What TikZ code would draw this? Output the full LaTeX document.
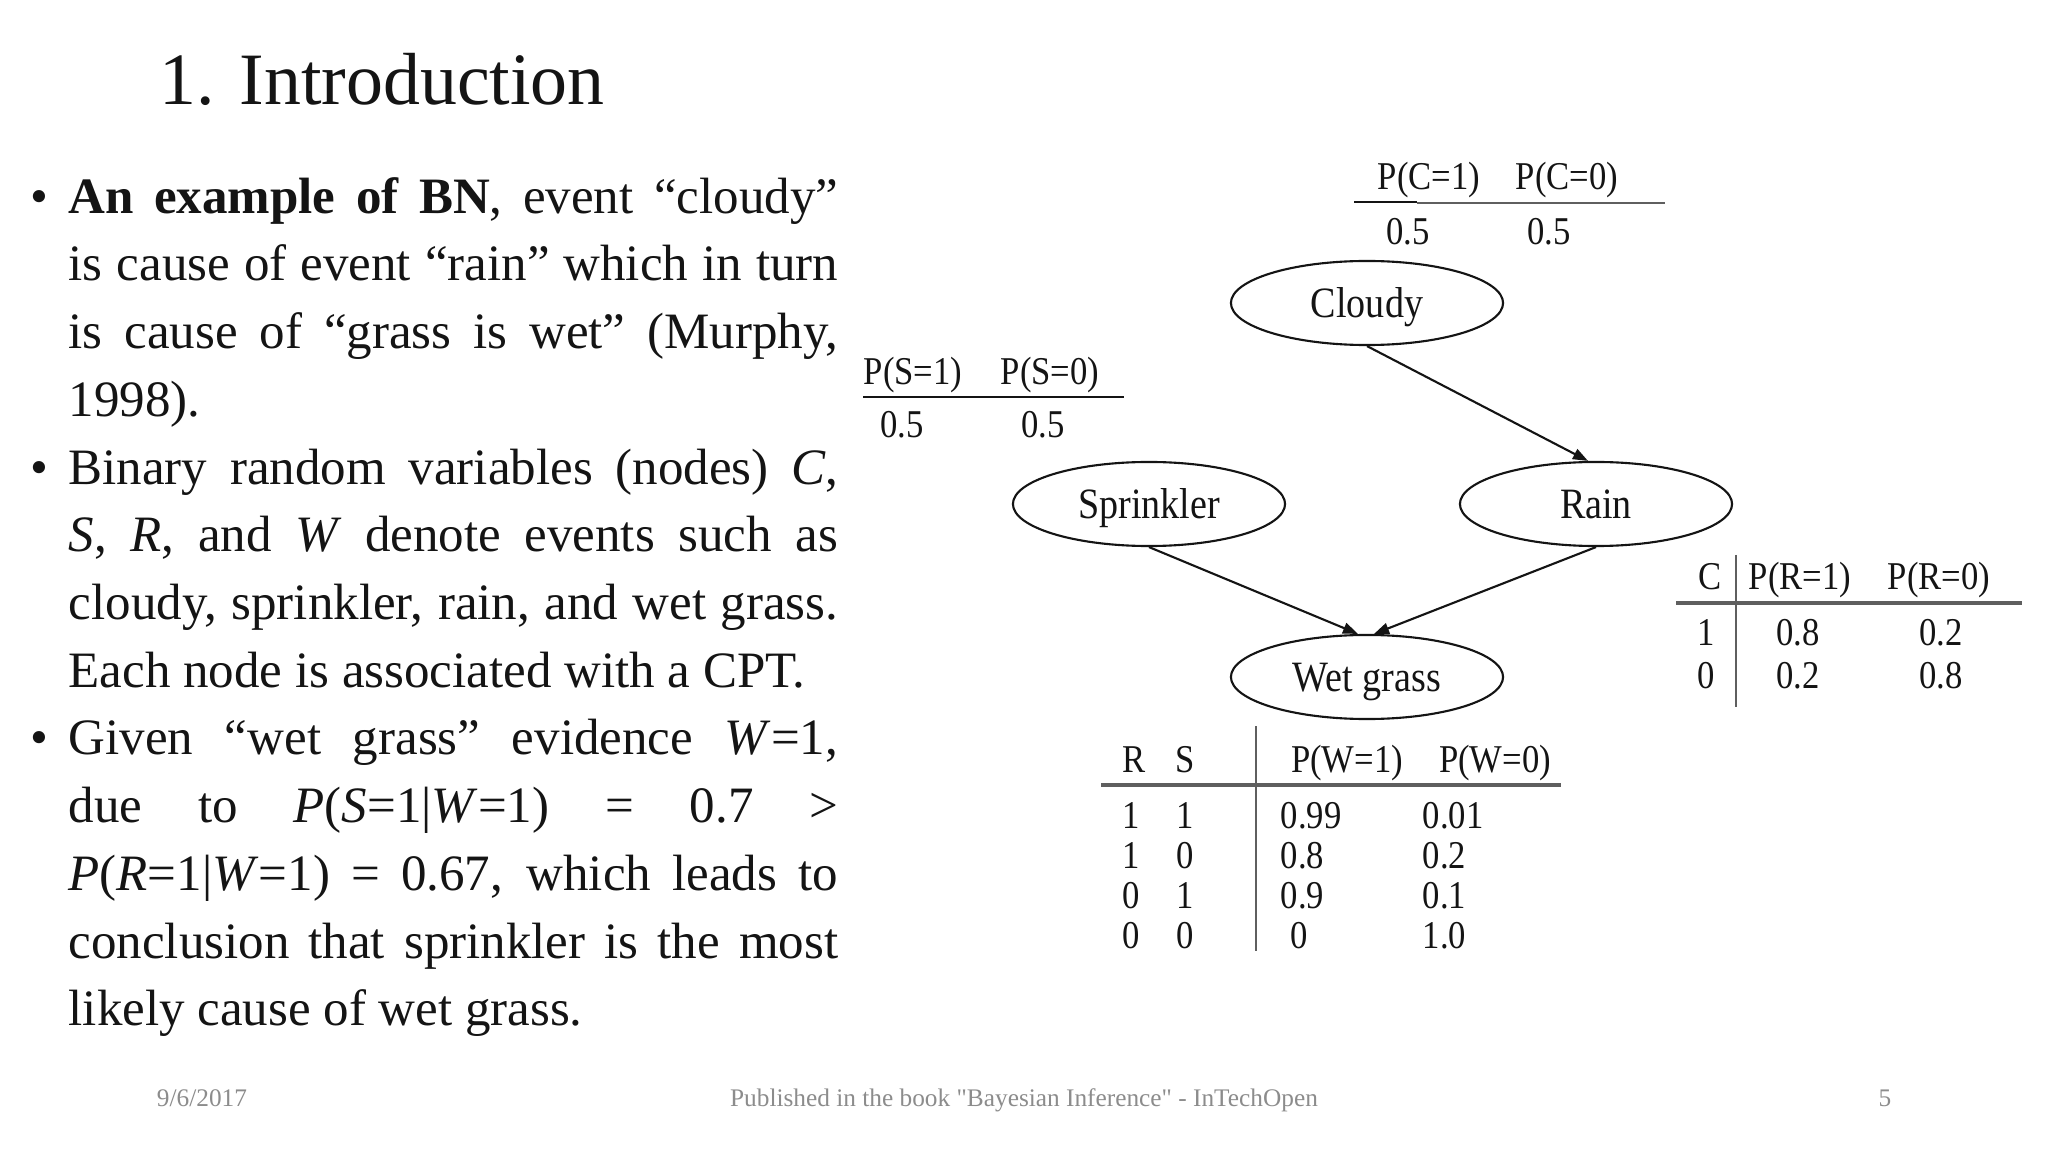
\documentclass[tikz,border=0pt]{standalone}
\usepackage{fontspec}
\setmainfont{Liberation Serif}
\newfontfamily\bnfont[FakeStretch=0.88]{Liberation Serif}
\usepackage{xcolor}
\definecolor{ink}{RGB}{20,20,20}
\definecolor{rulegray}{RGB}{95,95,95}
\definecolor{footgray}{RGB}{140,140,140}
\usepackage{tikz}
\usetikzlibrary{arrows.meta,positioning,shapes.geometric}
\tikzset{
  bnvar/.style={ellipse, draw=ink, line width=0.6pt,
    minimum width=2.72cm, minimum height=0.84cm, inner sep=0pt,
    font=\bnfont\fontsize{12.3}{14}\selectfont, text=ink,
    text height=8.1pt, text depth=0pt},
  bnedge/.style={draw=ink, line width=0.6pt,
    -{Triangle[length=0.15cm,width=0.11cm]}},
  cpt/.style={inner sep=0pt, text=ink,
    font=\bnfont\fontsize{11.2}{13}\selectfont,
    text height=7.4pt, text depth=0pt},
  cptline/.style={draw=ink, line width=0.5pt},
  cptrule/.style={draw=rulegray, line width=1.1pt},
  cptbar/.style={draw=rulegray, line width=0.6pt},
  footer/.style={font=\fontsize{7.2}{9}\selectfont, text=footgray,
    anchor=base, inner sep=0pt},
}

\begin{document}
\begin{tikzpicture}[x=0.01cm, y=-0.01cm]
\useasboundingbox[fill=white] (0,0) rectangle (2048,1152);

% slide text
\node[anchor=base west, inner sep=0pt, text=ink,
      font=\fontsize{21}{26}\selectfont] (title) at (159,105) {1. Introduction};
\node[anchor=north west, inner sep=0pt, text width=7.69cm, align=justify,
      text=ink, font=\fontsize{14.5}{19.26}\selectfont] (body) at (68,165) {%
  \tolerance=10000 \hyphenpenalty=10000 \parindent=0pt
  \leavevmode\strut\llap{\textbullet\hspace{0.2cm}}\textbf{An example of BN}, event “cloudy”\linebreak
  is cause of event “rain” which in turn\linebreak
  is cause of “grass is wet” (Murphy,\linebreak
  1998).\par
  \leavevmode\llap{\textbullet\hspace{0.2cm}}Binary random variables (nodes) \textit{C},\linebreak
  \textit{S}, \textit{R}, and \textit{W} denote events such as\linebreak
  cloudy, sprinkler, rain, and wet grass.\linebreak
  Each node is associated with a CPT.\par
  \leavevmode\llap{\textbullet\hspace{0.2cm}}Given “wet grass” evidence \textit{W}=1,\linebreak
  due to \textit{P}(\textit{S}=1|\textit{W}=1) = 0.7 >\linebreak
  \textit{P}(\textit{R}=1|\textit{W}=1) = 0.67, which leads to\linebreak
  conclusion that sprinkler is the most\linebreak
  likely cause of wet grass.\par};

% network
\node[bnvar] (cloudy) at (1367,303) {Cloudy};
\node[bnvar] (sprinkler) at (1149,504) {Sprinkler};
\node[bnvar] (rain) at (1596,504) {Rain};
\node[bnvar] (wet) at (1367,677) {Wet grass};

\draw[bnedge] (cloudy.south) -- ([xshift=-0.08cm]rain.north);
\draw[bnedge] (sprinkler.south) -- ([xshift=-0.09cm]wet.north);
\draw[bnedge] (rain.south) -- ([xshift=0.07cm]wet.north);

% CPT of C
\node[cpt] (pc1) at (1429,176) {P(C=1)};
\node[cpt] (pc0) at (1567,176) {P(C=0)};
\draw[cptline] (1354,202) -- (1417,202);
\draw[cptrule, line width=0.8pt] (1417,203) -- (1665,203);
\node[cpt] (pc1v) at (1408,231) {0.5};
\node[cpt] (pc0v) at (1549,231) {0.5};

% CPT of S
\node[cpt] (ps1) at (913,371) {P(S=1)};
\node[cpt] (ps0) at (1050,371) {P(S=0)};
\draw[cptline] (863,397) -- (1124,397);
\node[cpt] (ps1v) at (902,424) {0.5};
\node[cpt] (ps0v) at (1043,424) {0.5};

% CPT of R
\node[cpt] (rc) at (1710,576) {C};
\node[cpt] (pr1) at (1800,576) {P(R=1)};
\node[cpt] (pr0) at (1939,576) {P(R=0)};
\draw[cptbar] (1736,555) -- (1736,707);
\draw[cptrule] (1676,603) -- (2022,603);
\foreach \c/\a/\b [count=\i] in {1/0.8/0.2, 0/0.2/0.8} {
  \node[cpt] (rrow\i c) at (1706,589+43*\i) {\c};
  \node[cpt] (rrow\i a) at (1798,589+43*\i) {\a};
  \node[cpt] (rrow\i b) at (1941,589+43*\i) {\b};
}

% CPT of W
\node[cpt] (wr) at (1134,759) {R};
\node[cpt] (ws) at (1185,759) {S};
\node[cpt] (pw1) at (1347,759) {P(W=1)};
\node[cpt] (pw0) at (1495,759) {P(W=0)};
\draw[cptbar] (1256,726) -- (1256,951);
\draw[cptrule] (1101,785) -- (1561,785);
\foreach \r/\s/\a/\b [count=\i] in
    {1/1/0.99/0.01, 1/0/0.8/0.2, 0/1/0.9/0.1, 0/0/{\hspace{0.1cm}0}/1.0} {
  \node[cpt] (wrow\i r) at (1131,775+40*\i) {\r};
  \node[cpt] (wrow\i s) at (1185,775+40*\i) {\s};
  \node[cpt, anchor=west] (wrow\i a) at (1280,775+40*\i) {\a};
  \node[cpt, anchor=west] (wrow\i b) at (1422,775+40*\i) {\b};
}

% footer
\node[footer] (date) at (202,1106) {9/6/2017};
\node[footer] (source) at (1024,1106) {Published in the book \textquotedbl Bayesian Inference\textquotedbl{} - InTechOpen};
\node[footer] (page) at (1885,1106) {5};
\end{tikzpicture}
\end{document}
